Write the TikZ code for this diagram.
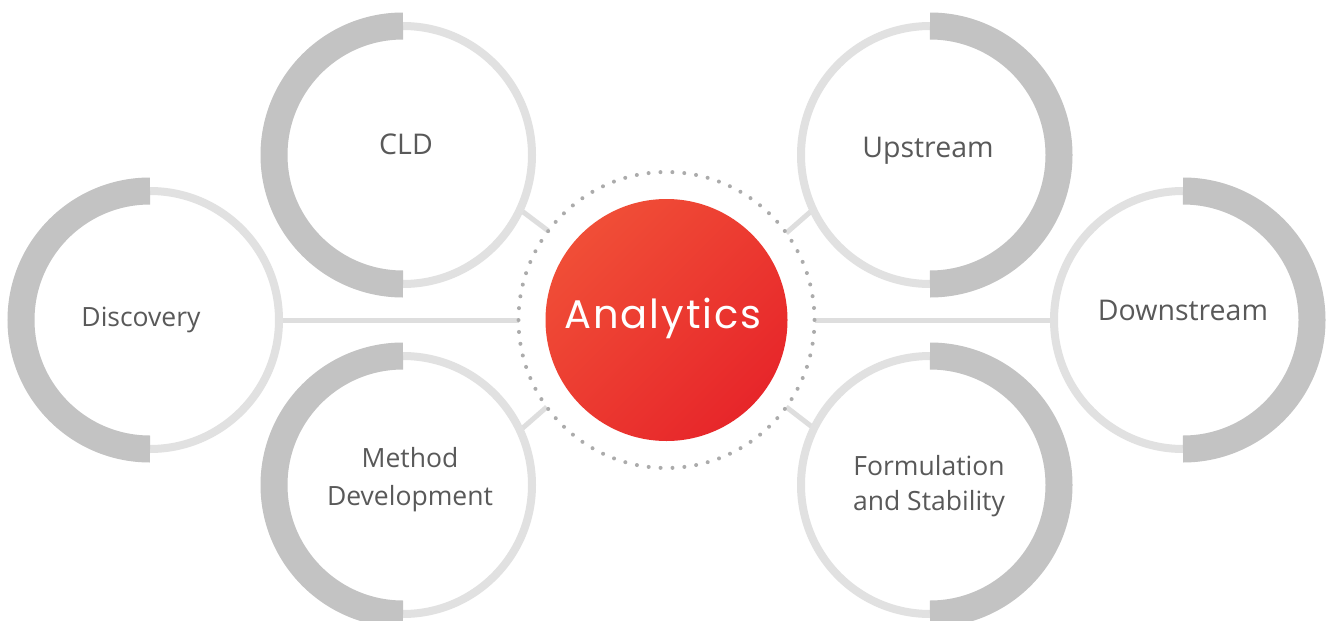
\documentclass[tikz,border=0pt]{standalone}
\usepackage{fontspec}
\setmainfont{Open Sans}
\newfontfamily\anafont{Poppins}[LetterSpace=5]
\definecolor{txt}{HTML}{595959}
\definecolor{thickc}{HTML}{C3C3C3}
\definecolor{thinc}{HTML}{E1E1E1}
\definecolor{connc}{HTML}{DEDEDE}
\definecolor{dotc}{HTML}{ABABAB}
\definecolor{redA}{HTML}{F04E37}
\definecolor{redB}{HTML}{E7262A}
\begin{document}
\begin{tikzpicture}[x=1pt,y=-1pt,
  sat/.style={circle, minimum size=258pt, inner sep=0pt, outer sep=0pt},
  thinring/.style={draw=thinc, line width=8pt},
  thickring/.style={draw=thickc, line width=27pt},
  conn/.style={draw=connc, line width=5pt},
  dotring/.style={draw=dotc, line width=4pt, line cap=round, dash pattern=on 0pt off 11.922pt},
  lblS/.style={text=txt, font=\fontsize{26.5}{36}\selectfont, anchor=base, inner sep=0pt},
  lblL/.style={text=txt, font=\fontsize{28.5}{36}\selectfont, anchor=base, inner sep=0pt}]
\useasboundingbox[fill=white] (0,0) rectangle (1326,621);
\coordinate (C) at (666.5,320);
\node[circle, minimum size=296pt, inner sep=0pt, outer sep=0pt] (dots) at (C) {};
\node[sat] (disc) at (150,320) {};
\node[sat] (cld) at (403,155) {};
\node[sat] (md) at (403,485) {};
\node[sat] (up) at (930,155) {};
\node[sat] (down) at (1183,320) {};
\node[sat] (form) at (930,485) {};
% connectors
\draw[conn] (dots.west) -- (disc.east);
\draw[conn] (dots.east) -- (down.west);
\draw[conn] (dots.143.13) -- (cld.-25.6);
\draw[conn] (dots.216.87) -- (md.25.6);
\draw[conn] (dots.36.87) -- (up.205.6);
\draw[conn] (dots.-36.87) -- (form.154.4);
% rings
\foreach \n in {disc,cld,md,up,down,form}{
  \draw[thinring] (\n.center) circle (129);
}
\foreach \n in {disc,cld,md}{
  \draw[thickring] (\n.north) arc[start angle=-90, end angle=-270, radius=129];
}
\foreach \n in {up,down,form}{
  \draw[thickring] (\n.north) arc[start angle=-90, end angle=90, radius=129];
}
% centre
\draw[dotring] (C) circle (148);
\node[circle, minimum size=242pt, inner sep=0pt, left color=redA, right color=redB, shading angle=45] (core) at (C) {};
\node[anchor=base, text=white, inner sep=0pt, font=\anafont\fontsize{40}{48}\selectfont] (ana) at (663,328) {Analytics};
% labels
\node[lblS] (tdisc) at (141,326) {Discovery};
\node[lblL] (tcld) at (406,154) {CLD};
\node[lblL] (tup) at (928,157) {Upstream};
\node[lblL] (tdown) at (1183,320) {Downstream};
\node[lblS] (tmd1) at (410,467) {Method};
\node[lblS] (tmd2) at (410,505) {Development};
\node[lblS] (tf1) at (929,475) {Formulation};
\node[lblS] (tf2) at (929,510) {and Stability};
\end{tikzpicture}
\end{document}
